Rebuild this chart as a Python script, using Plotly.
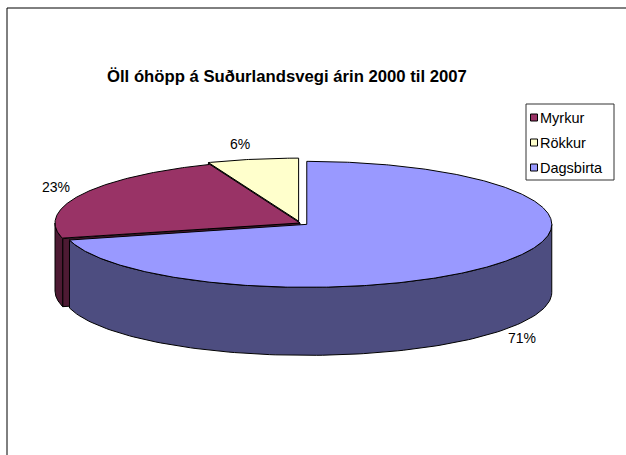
import numpy as np
import plotly.graph_objects as go

# ---- data -------------------------------------------------------------
categories = ["Myrkur", "Rökkur", "Dagsbirta"]
shares = [23, 6, 71]
title_text = "Öll óhöpp á Suðurlandsvegi árin 2000 til 2007"

# ---- styling ----------------------------------------------------------
top_colors = ["#993366", "#FFFFCC", "#9999FF"]
side_colors = ["#4D1A33", "#808066", "#4D4D80"]
explode = [0.0, 0.03, 0.035]         # fraction of the radius each slice is pulled out
label_offsets = [(-26, -7), (-13, -15), (22, 7)]  # px nudges from the rim for the % labels
FONT = "Liberation Sans, Arial, sans-serif"

W, H = 626, 455
CX, CY = 300.0, 223.0      # centre of the top face (px)
RX, RY = 245.0, 63.0       # ellipse radii of the top face
DEPTH = 68.0               # thickness of the disc

total = float(sum(shares))
fracs = [s / total for s in shares]
# clockwise from 12 o'clock; rotated so the last slice begins at 12 o'clock
start = 360.0 * (1.0 - sum(fracs[:-1]))


def rim(theta, ox, oy, down=0.0):
    t = np.radians(theta)
    return CX + ox + RX * np.sin(t), CY + oy - RY * np.cos(t) + down


slices = []
a = start
for i, f in enumerate(fracs):
    a0, a1 = a, a + 360.0 * f
    mid = np.radians((a0 + a1) / 2.0)
    ox = explode[i] * RX * np.sin(mid)
    oy = -explode[i] * RY * np.cos(mid)
    slices.append(dict(i=i, a0=a0, a1=a1, ox=ox, oy=oy,
                       midy=CY + oy - RY * np.cos(mid)))
    a = a1

fig = go.Figure()


def poly(xs, ys, fill):
    fig.add_trace(go.Scatter(
        x=list(xs) + [xs[0]], y=list(ys) + [ys[0]], mode="lines",
        fill="toself", fillcolor=fill,
        line=dict(color="black", width=1), hoverinfo="skip", showlegend=False))


def front_range(a0, a1):
    """Part of [a0, a1] (degrees, any winding) that lies on the front half 90..270."""
    out = []
    for k in (-360.0, 0.0, 360.0):
        lo, hi = max(a0 + k, 90.0), min(a1 + k, 270.0)
        if hi > lo:
            out.append((lo, hi))
    return out


# back-to-front painter's order
for s in sorted(slices, key=lambda d: d["midy"]):
    i, a0, a1, ox, oy = s["i"], s["a0"], s["a1"], s["ox"], s["oy"]
    ax, ay = CX + ox, CY + oy
    # radial cut faces that turn towards the viewer
    for ang, sign in ((a0, -1.0), (a1, 1.0)):
        if sign * np.sin(np.radians(ang)) > 1e-6:
            ex, ey = rim(ang, ox, oy)
            poly([ax, ex, ex, ax], [ay, ey, ey + DEPTH, ay + DEPTH], side_colors[i])
    # outer curved wall
    for lo, hi in front_range(a0, a1):
        th = np.linspace(lo, hi, 120)
        tx, ty = rim(th, ox, oy)
        bx, by = rim(th[::-1], ox, oy, DEPTH)
        poly(np.concatenate([tx, bx]), np.concatenate([ty, by]), side_colors[i])
    # top face
    th = np.linspace(a0, a1, max(int(abs(a1 - a0) * 2), 8))
    tx, ty = rim(th, ox, oy)
    poly(np.concatenate([[ax], tx]), np.concatenate([[ay], ty]), top_colors[i])

# percentage labels
for s in slices:
    i = s["i"]
    m = (s["a0"] + s["a1"]) / 2.0
    down = DEPTH if np.cos(np.radians(m)) < 0 else 0.0
    lx, ly = rim(m, s["ox"], s["oy"], down)
    dx, dy = label_offsets[i]
    fig.add_annotation(x=float(lx + dx), y=float(ly + dy), text=f"{shares[i]:.0f}%",
                       showarrow=False, xanchor="center", yanchor="middle",
                       font=dict(family=FONT, size=14, color="black"))

# legend box
LX0, LY0, LX1, LY1 = 526, 104, 614, 180
fig.add_shape(type="rect", x0=LX0, y0=LY0, x1=LX1, y1=LY1,
              line=dict(color="#333333", width=1), fillcolor="white", layer="below")
for k, name in enumerate(categories):
    yy = LY0 + 13.5 + 25 * k
    fig.add_trace(go.Scatter(x=[LX0 + 8], y=[yy], mode="markers",
                             marker=dict(symbol="square", size=7, color=top_colors[k],
                                         line=dict(color="black", width=1)),
                             hoverinfo="skip", showlegend=False))
    fig.add_annotation(x=LX0 + 12, y=yy, text=name, showarrow=False,
                       xanchor="left", yanchor="middle",
                       font=dict(family=FONT, size=14.5, color="black"))

# chart-area frame (top and left edges fall inside the page)
fig.add_shape(type="line", x0=7, y0=8, x1=W, y1=8, line=dict(color="black", width=1))
fig.add_shape(type="line", x0=7, y0=8, x1=7, y1=H, line=dict(color="black", width=1))

fig.add_annotation(x=287, y=76, text=f"<b>{title_text}</b>", showarrow=False,
                   xanchor="center", yanchor="middle",
                   font=dict(family=FONT, size=16.7, color="black"))

fig.update_layout(
    width=W, height=H, margin=dict(l=0, r=0, t=0, b=0),
    paper_bgcolor="white", plot_bgcolor="white", showlegend=False,
    xaxis=dict(range=[0, W], visible=False, fixedrange=True),
    yaxis=dict(range=[H, 0], visible=False, fixedrange=True),
)

fig.write_html("out.html")
